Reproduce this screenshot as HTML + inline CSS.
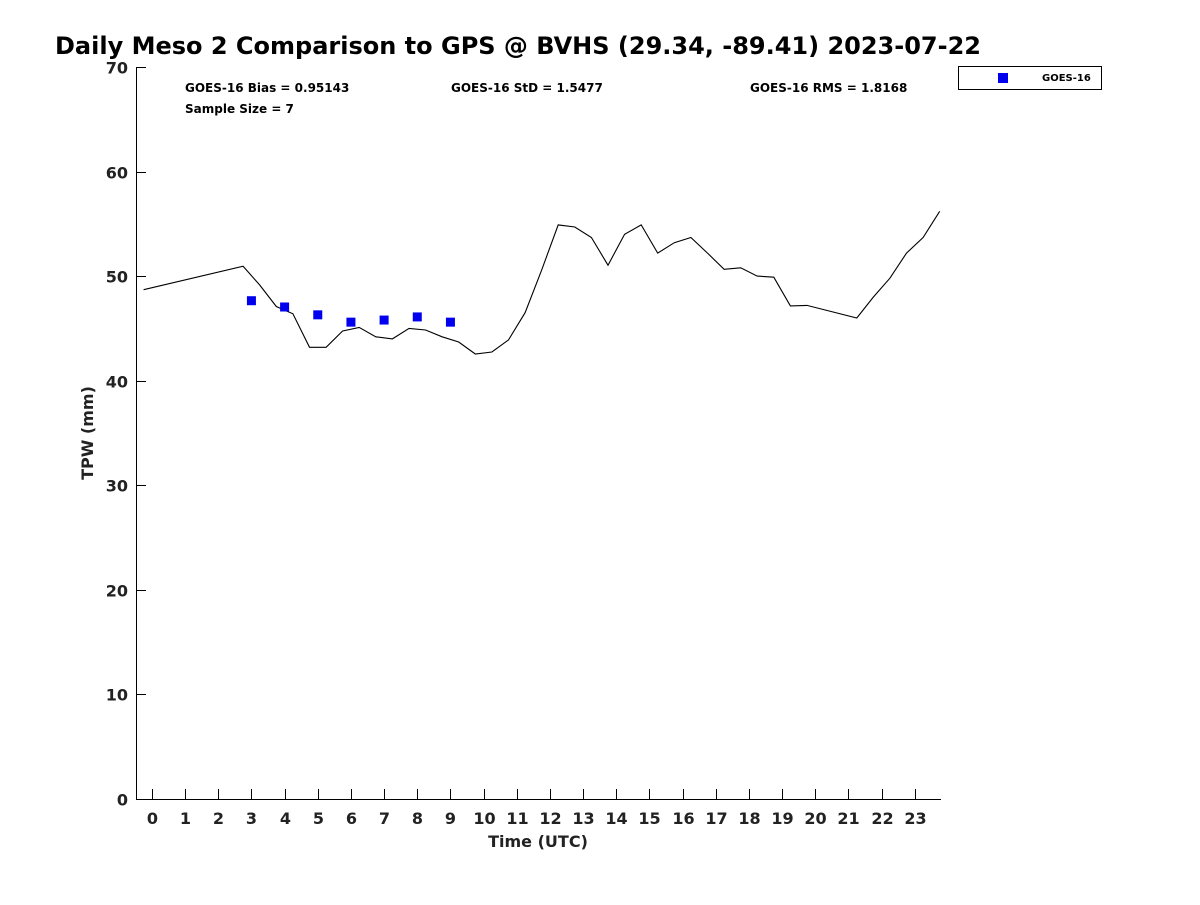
<!DOCTYPE html>
<html><head><meta charset="utf-8"><style>
body{margin:0;background:#fff;font-family:"Liberation Sans","DejaVu Sans",sans-serif}
svg text{font-family:"DejaVu Sans","Liberation Sans",sans-serif;font-weight:bold;fill:#222}
</style></head><body>
<svg id="chart" width="1200" height="900" xmlns="http://www.w3.org/2000/svg">
<rect width="1200" height="900" fill="#fff"/>
<text x="55" y="54" font-size="24" style="fill:#000">Daily Meso 2 Comparison to GPS @ BVHS (29.34, -89.41) 2023-07-22</text>
<g id="axes"></g>
<text x="185" y="92" font-size="12" style="fill:#000">GOES-16 Bias = 0.95143</text>
<text x="451" y="92" font-size="12" style="fill:#000">GOES-16 StD = 1.5477</text>
<text x="750" y="92" font-size="12" style="fill:#000">GOES-16 RMS = 1.8168</text>
<text x="185" y="113" font-size="12" style="fill:#000">Sample Size = 7</text>
<text x="538" y="847" font-size="16" text-anchor="middle">Time (UTC)</text>
<text x="93" y="433" font-size="16" text-anchor="middle" transform="rotate(-90 93 433)">TPW (mm)</text>
<g>
<rect x="958.5" y="66.5" width="143" height="23" fill="#fff" stroke="#000" stroke-width="1"/>
<rect x="998" y="73" width="10" height="10" fill="#0000ee"/>
<text x="1042" y="81" font-size="10" style="fill:#000">GOES-16</text>
</g>
</svg>
<script>
const gpsTimes=[-0.25,2.75,3.25,3.75,4.25,4.75,5.25,5.75,6.25,6.75,7.25,7.75,8.25,8.75,9.25,9.75,10.25,10.75,11.25,11.75,12.25,12.75,13.25,13.75,14.25,14.75,15.25,15.75,16.25,16.75,17.25,17.75,18.25,18.75,19.25,19.75,21.25,21.75,22.25,22.75,23.25,23.75];
const gpsValues=[48.7,50.95,49.15,47.1,46.4,43.2,43.2,44.75,45.1,44.2,44.0,45.0,44.85,44.2,43.7,42.55,42.75,43.9,46.5,50.6,54.9,54.7,53.7,51.05,54.0,54.9,52.2,53.2,53.7,52.2,50.65,50.8,50.0,49.9,47.15,47.2,46.0,48.0,49.8,52.2,53.7,56.2];
const goesTimes=[3,4,5,6,7,8,9];
const goesValues=[47.65,47.05,46.3,45.6,45.8,46.1,45.6];
const xTicks=[0,1,2,3,4,5,6,7,8,9,10,11,12,13,14,15,16,17,18,19,20,21,22,23];
const yTicks=[0,10,20,30,40,50,60,70];
const NS="http://www.w3.org/2000/svg";
const X0=136,X1=941,Y0=799,Y1=67,xmin=-0.48,xmax=23.79,ymin=0,ymax=70;
function xs(t){return X0+(t-xmin)/(xmax-xmin)*(X1-X0);}
function ys(v){return Y0-(v-ymin)/(ymax-ymin)*(Y0-Y1);}
const svg=document.getElementById('chart');
const g=document.getElementById('axes');
function mk(tag,attrs,parent){const e=document.createElementNS(NS,tag);for(const k in attrs)e.setAttribute(k,attrs[k]);(parent||g).appendChild(e);return e;}
const ax=mk('path',{d:`M${X0+.5},${Y1} V${Y0+.5} H${X1}`,stroke:'#000',fill:'none','stroke-width':1});


xTicks.forEach(t=>{const x=Math.round(xs(t))+.5;
const l=mk('line',{x1:x,x2:x,y1:Y0,y2:Y0-10,stroke:'#000'});


const tx=mk('text',{x:x,y:Y0+25,'font-size':16,'text-anchor':'middle'});tx.textContent=t;

});
yTicks.forEach(v=>{const y=Math.round(ys(v))+.5;
const l=mk('line',{x1:X0,x2:X0+10,y1:y,y2:y,stroke:'#000'});


const tx=mk('text',{x:X0-8,y:y+6,'font-size':16,'text-anchor':'end'});tx.textContent=v;

});
const pts=gpsTimes.map((t,i)=>xs(t).toFixed(1)+','+ys(gpsValues[i]).toFixed(1)).join(' ');
const pl=mk('polyline',{points:pts,fill:'none',stroke:'#000','stroke-width':1.1},svg);


goesTimes.forEach((t,i)=>{const r=mk('rect',{x:xs(t)-4.5,y:ys(goesValues[i])-4.5,width:9,height:9,fill:'#0000ee'},svg);

});
</script>
</body></html>
